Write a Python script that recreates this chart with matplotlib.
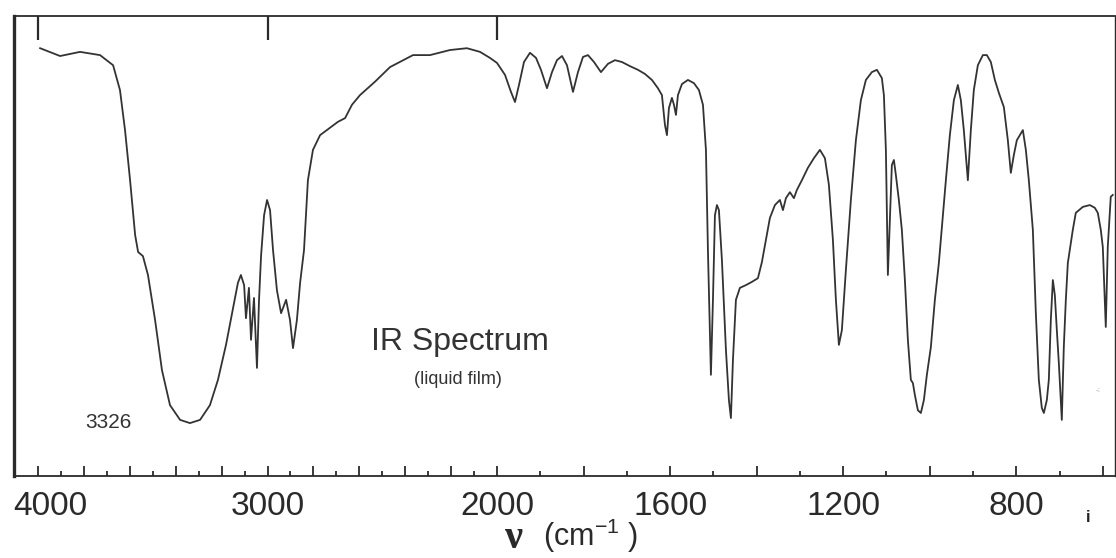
import numpy as np
import matplotlib
matplotlib.use("Agg")
import matplotlib.pyplot as plt
import matplotlib.transforms as mtransforms
from matplotlib.ticker import FixedLocator, FuncFormatter

# ---------------- data (wavenumber cm-1, transmittance %) ----------------
wavenumber = [
    3991, 3904, 3817, 3730, 3673, 3643, 3621, 3599, 3577, 3564, 3543, 3521,
    3490, 3460, 3425, 3381, 3338, 3294, 3251, 3216, 3181, 3150, 3129, 3116,
    3102, 3094, 3081, 3072, 3059, 3046, 3037, 3028, 3015, 3002, 2989, 2976,
    2959, 2941, 2919, 2902, 2889, 2872, 2858, 2841, 2824, 2802, 2771, 2728,
    2693, 2662, 2632, 2597, 2532, 2466, 2366, 2292, 2205, 2131, 2074, 2031,
    2000,
    1981.5, 1967.7, 1958.4, 1949.2, 1937.6, 1923.8, 1909.9, 1898.4, 1884.5,
    1872.9, 1861.4, 1849.8, 1838.3, 1824.4, 1812.9, 1801.3, 1789.8, 1775.9,
    1759.8, 1743.6, 1727.4, 1711.3, 1692.8, 1674.3, 1658.1, 1642.0, 1628.1,
    1618.9, 1611.9, 1607.3, 1602.7, 1595.8, 1591.1, 1586.5, 1581.9, 1572.7,
    1558.8, 1544.9, 1533.4, 1524.1, 1517.2, 1512.6, 1505.7, 1501.0, 1496.4,
    1491.8, 1487.2, 1480.3, 1471.0, 1464.1, 1459.5, 1454.8, 1447.9, 1438.7,
    1424.8, 1411.0, 1397.1, 1387.9, 1378.6, 1369.4, 1357.8, 1346.3, 1339.3,
    1332.4, 1323.2, 1313.9, 1307.0, 1295.5, 1281.6, 1267.7, 1253.9, 1242.3,
    1233.1, 1223.8, 1216.9, 1210.0, 1203.1, 1193.8, 1182.3, 1170.7, 1159.2,
    1147.6, 1133.8, 1122.2, 1110.7, 1106.0, 1101.4, 1096.8, 1092.2, 1087.6,
    1082.9, 1078.3, 1071.4, 1064.5, 1057.5, 1050.6, 1043.7, 1039.0, 1034.4,
    1027.5, 1020.6, 1013.6, 1006.7, 997.5, 988.2, 979.0, 969.7, 962.8,
    953.6, 944.3, 935.1, 928.2, 921.3, 912.0, 905.1, 898.2, 888.9,
    877.3, 868.1, 858.9, 849.6, 840.4, 828.8, 819.6, 812.7, 805.7,
    798.8, 784.9, 778.0, 771.1, 761.8, 754.9, 748.0, 741.1, 736.4,
    729.5, 724.9, 720.3, 715.6, 711.0, 706.4, 701.8, 694.9, 690.3,
    685.6, 681.0, 669.5, 662.6, 646.4, 630.2, 618.6, 611.7, 604.8,
    600.2, 593.3, 588.7, 581.8, 577.2,
]
transmittance = [
    93.0, 91.3, 92.2, 91.5, 89.3, 83.9, 75.2, 64.3, 52.4, 48.7, 47.8, 43.7,
    33.9, 23.0, 15.4, 12.2, 11.5, 12.2, 15.4, 20.9, 28.5, 36.5, 42.0, 43.7,
    41.5, 34.3, 40.9, 29.6, 38.7, 23.5, 38.3, 48.0, 56.7, 60.0, 57.8, 49.1,
    40.4, 35.4, 38.3, 33.9, 27.8, 33.9, 42.0, 49.1, 64.3, 70.9, 74.1, 75.7,
    77.0, 77.8, 80.7, 82.8, 85.7, 88.9, 91.5, 91.5, 92.6, 93.0, 92.2, 90.9,
    89.8,
    87.2, 83.5, 81.3, 85.0, 90.0, 92.0, 90.9, 88.3, 84.3,
    87.8, 90.4, 91.3, 89.3, 83.5, 87.8, 91.1, 91.5, 90.0,
    87.8, 89.6, 90.4, 90.0, 89.1, 88.3, 87.4, 86.1, 84.3,
    82.8, 76.3, 74.1, 80.0, 82.2, 80.7, 78.5, 82.8, 85.2,
    86.1, 85.4, 83.9, 80.7, 70.9, 49.1, 22.0, 38.3, 56.7,
    58.9, 57.8, 47.0, 27.4, 16.5, 12.6, 25.2, 38.3, 40.9,
    41.5, 42.2, 43.0, 46.5, 51.3, 56.1, 58.9, 60.0, 57.8,
    60.4, 61.7, 60.4, 62.2, 64.3, 67.0, 69.1, 70.9, 69.1,
    63.3, 51.3, 38.3, 28.5, 31.7, 44.8, 60.0, 73.0, 81.7,
    86.1, 87.8, 88.3, 86.5, 82.8, 70.9, 43.7, 55.7, 67.6,
    68.7, 65.4, 60.0, 53.5, 42.6, 29.6, 20.9, 20.2, 17.6,
    14.3, 13.7, 16.5, 22.0, 28.0, 38.3, 46.3, 56.7, 64.3,
    74.1, 81.7, 85.0, 81.7, 75.2, 64.3, 75.2, 83.9, 89.3,
    91.5, 91.5, 90.0, 86.1, 83.3, 80.2, 73.0, 65.9, 69.8,
    73.0, 75.2, 70.9, 64.3, 53.5, 35.4, 20.9, 14.8, 13.7,
    16.5, 20.9, 33.9, 42.6, 39.3, 31.7, 24.6, 12.2, 28.0,
    38.3, 46.3, 53.5, 57.2, 58.5, 58.9, 58.3, 57.2, 53.5,
    49.8, 32.4, 49.8, 60.7, 61.1,
]
labelled_ticks = [4000, 3000, 2000, 1600, 1200, 800]
peak_label = "3326"

# ---------------- split-scale wavenumber axis ----------------
K = 1.886  # expansion factor below 2000 cm-1


def fwd(v):
    v = np.asarray(v, dtype=float)
    return np.where(v >= 2000, v - 4000, -2000 - (2000 - v) * K)


def inv(x):
    x = np.asarray(x, dtype=float)
    return np.where(x >= -2000, x + 4000, 2000 + (x + 2000) / K)


plt.rcParams['font.family'] = ['Liberation Sans', 'DejaVu Sans']
ink = '#2a2a2a'

fig = plt.figure(figsize=(11.16, 5.58), dpi=100)
W, H = 1116, 558
L, R, T, B = 13.5, 1115, 16, 476
ax = fig.add_axes([L / W, 1 - B / H, (R - L) / W, (B - T) / H])

ax.set_xscale('function', functions=(fwd, inv))
ax.plot(wavenumber, transmittance, color='#333333', lw=1.3, solid_joinstyle='round')
ax.set_xlim(4107, 572)
ax.set_ylim(0, 100)
ax.set_yticks([])

for side, lw in (('left', 2.4), ('top', 1.3), ('bottom', 1.3), ('right', 1.0)):
    ax.spines[side].set_linewidth(lw)
    ax.spines[side].set_color(ink)

major = list(range(4000, 500, -200))
minor = list(range(3900, 500, -200))
ax.xaxis.set_major_locator(FixedLocator(major))
ax.xaxis.set_minor_locator(FixedLocator(minor))
ax.xaxis.set_major_formatter(FuncFormatter(
    lambda v, p: f"{int(round(v))}" if int(round(v)) in labelled_ticks else ""))
ax.tick_params(axis='x', which='major', direction='in', length=7, width=1.3,
               top=True, bottom=True, labelsize=24, pad=11, colors=ink)
ax.tick_params(axis='x', which='minor', direction='in', length=3.5, width=1.3,
               top=True, bottom=True, colors=ink)
fig.canvas.draw()
for lab in ax.get_xticklabels():
    if lab.get_text() == "4000":
        lab.set_transform(lab.get_transform() +
                          mtransforms.ScaledTranslation(12 / 100, 0, fig.dpi_scale_trans))

# long ticks on the top edge at the thousands
ax2 = ax.twiny()
ax2.set_xscale('function', functions=(fwd, inv))
ax2.set_xlim(ax.get_xlim())
ax2.xaxis.set_major_locator(FixedLocator([4000, 3000, 2000]))
ax2.xaxis.set_minor_locator(FixedLocator([]))
ax2.tick_params(axis='x', which='major', direction='in', length=17, width=1.6,
                top=True, bottom=False, labeltop=False, colors=ink)
for s in ax2.spines.values():
    s.set_visible(False)

# texts
fig.text(460 / W, 1 - 342 / H, "IR Spectrum", ha='center', va='center',
         fontsize=23, color='#333333')
fig.text(458 / W, 1 - 379 / H, "(liquid film)", ha='center', va='center',
         fontsize=13, color='#333333')
fig.text(108 / W, 1 - 422 / H, peak_label, ha='center', va='center',
         fontsize=15, color='#333333')
fig.text(514 / W, 1 - 539 / H, "ν", ha='center', va='center', fontsize=29,
         family=['Liberation Serif', 'DejaVu Serif'], fontweight='bold', color=ink)
fig.text(543 / W, 1 - 536 / H, r"(cm$^{\mathregular{-1}}$ )", ha='left', va='center',
         fontsize=22, color=ink)
fig.text(1088 / W, 1 - 518 / H, "i", ha='center', va='center', fontsize=12,
         fontweight='bold', color='#222222')
fig.text(1098 / W, 1 - 391 / H, "-:", ha='center', va='center', fontsize=6,
         color='#9a9a9a')

fig.savefig("out.png", dpi=100, facecolor='white')
